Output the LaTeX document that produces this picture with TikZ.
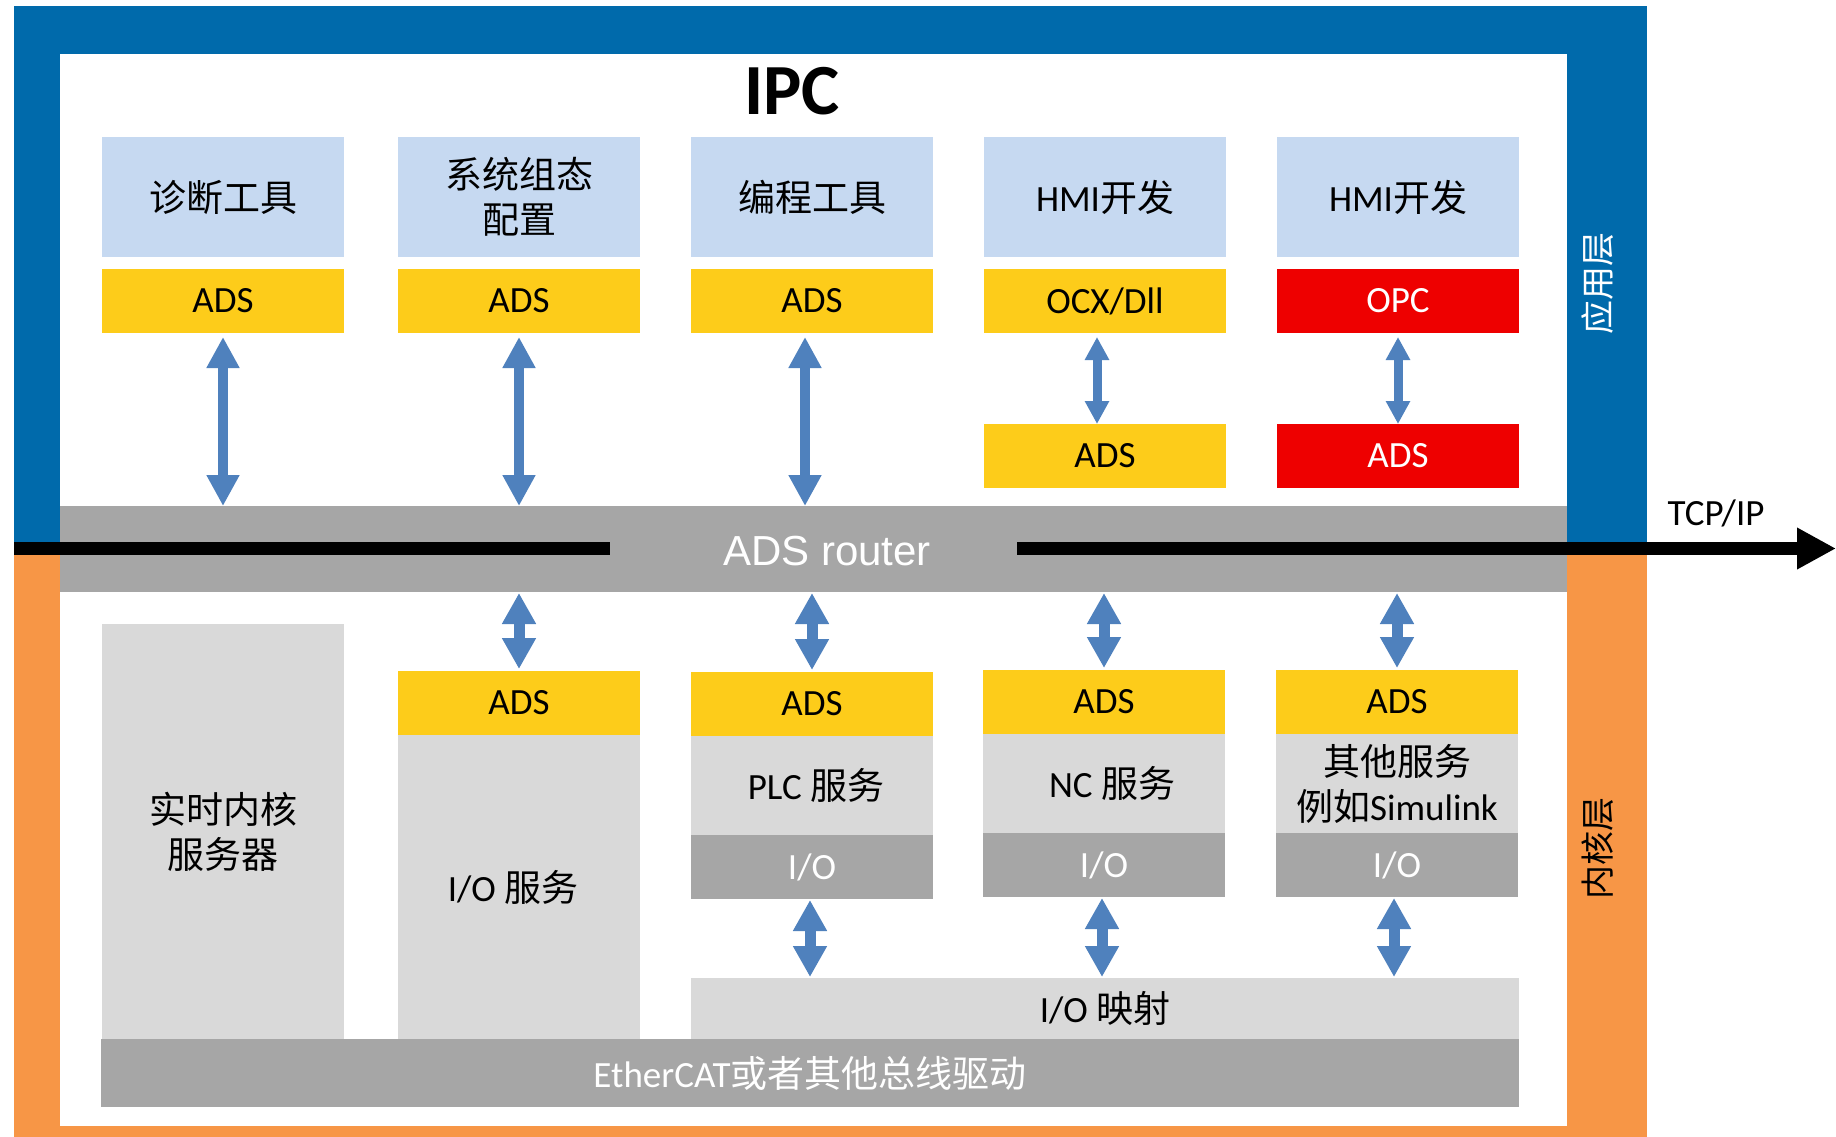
\documentclass[tikz,border=0pt]{standalone}
\usepackage{fontspec}
\setmainfont{Carlito}
\newfontfamily\cjk{Noto Sans CJK SC}
\newfontfamily\arialfont{Liberation Sans}
\usetikzlibrary{arrows.meta,calc}
\newcommand\zh[1]{{\cjk #1}}

\definecolor{frameblue}{HTML}{006AAB}
\definecolor{frameorange}{HTML}{F79646}
\definecolor{paleblue}{HTML}{C6D9F1}
\definecolor{adsyellow}{HTML}{FDCC1A}
\definecolor{optred}{HTML}{EE0000}
\definecolor{svcgray}{HTML}{D9D9D9}
\definecolor{iogray}{HTML}{A6A6A6}
\definecolor{linkblue}{HTML}{4F81BD}

\begin{document}
\begin{tikzpicture}[x=1pt,y=-1pt,
  box/.style={anchor=north west, inner sep=0pt, outer sep=0pt, align=center,
    minimum width=242pt, font=\fontsize{37}{45}\selectfont, text=black},
  tool/.style={box, fill=paleblue, minimum height=120pt},
  ads/.style={box, fill=adsyellow, minimum height=64pt},
  redads/.style={box, fill=optred, text=white, minimum height=64pt},
  svc/.style={box, fill=svcgray},
  io/.style={box, fill=iogray, text=white, minimum height=64pt},
  bigarrow/.style={draw=linkblue, line width=10.5pt,
    {Triangle[width=31pt,length=31pt]}-{Triangle[width=31pt,length=31pt]}},
  midarrow/.style={draw=linkblue, line width=11pt,
    {Triangle[width=32pt,length=31pt]}-{Triangle[width=32pt,length=31pt]}},
  smallarrow/.style={draw=linkblue, line width=9pt,
    {Triangle[width=23pt,length=23pt]}-{Triangle[width=23pt,length=23pt]}},
  layerlabel/.style={rotate=90, font=\cjk\fontsize{34}{34}\selectfont}
]
\useasboundingbox (0,0) rectangle (1836,1137);
\fill[white] (0,0) rectangle (1836,1137);

% frame: application layer (blue) above, kernel layer (orange) below
\fill[frameblue] (14,6) rectangle (1647,548);
\fill[frameorange] (14,548) rectangle (1647,1137);
\fill[white] (60,54) rectangle (1567,1126);

\node[font=\bfseries\fontsize{72}{72}\selectfont] (ipc) at (792,91) {IPC};

% application tools
\node[tool] (t1) at (102,137) {\zh{诊断工具}};
\node[tool] (t2) at (398,137) {\zh{系统组态}\\\zh{配置}};
\node[tool] (t3) at (691,137) {\zh{编程工具}};
\node[tool] (t4) at (984,137) {HMI\zh{开发}};
\node[tool] (t5) at (1277,137) {HMI\zh{开发}};

\node[ads] (a1) at (102,269) {ADS};
\node[ads] (a2) at (398,269) {ADS};
\node[ads] (a3) at (691,269) {ADS};
\node[ads] (a4) at (984,269) {OCX/Dll};
\node[redads] (a5) at (1277,269) {OPC};

\node[ads] (b4) at (984,424) {ADS};
\node[redads] (b5) at (1277,424) {ADS};

% ADS router band
\node[box, fill=iogray, minimum width=1507pt, minimum height=86pt] (router) at (60,506) {};

% kernel services
\node[svc, minimum height=415pt] (k1) at (102,624) {\zh{实时内核}\\\zh{服务器}};

\node[ads] (c2ads) at (398,671) {ADS};
\node[svc, minimum height=304pt] (c2svc) at (398,735) {I/O \zh{服务}\hspace*{12pt}};

\node[ads] (c3ads) at (691,672) {ADS};
\node[svc, minimum height=99pt] (c3svc) at (691,736) {\hspace*{8pt}PLC \zh{服务}};
\node[io] (c3io) at (691,835) {I/O};

\node[ads] (c4ads) at (983,670) {ADS};
\node[svc, minimum height=99pt] (c4svc) at (983,734) {\hspace*{16pt}NC \zh{服务}};
\node[io] (c4io) at (983,833) {I/O};

\node[ads] (c5ads) at (1276,670) {ADS};
\node[svc, minimum height=99pt] (c5svc) at (1276,734) {\zh{其他服务}\\\zh{例如}Simulink};
\node[io] (c5io) at (1276,833) {I/O};

\node[svc, minimum width=828pt, minimum height=61pt] (iomap) at (691,978) {I/O \zh{映射}};
\node[box, fill=iogray, text=white, minimum width=1418pt, minimum height=68pt] (bus) at (101,1039)
  {EtherCAT\zh{或者其他总线驱动}};

% TCP/IP line crossing the router
\coordinate (netL) at (14,548.5);
\coordinate (netGapL) at (610,548.5);
\coordinate (netGapR) at (1017,548.5);
\coordinate (netEnd) at (1836,548.5);
\draw[line width=13pt] (netL) -- (netGapL);
\draw[line width=13pt, -{Triangle[width=39pt,length=39pt]}] (netGapR) -- (netEnd);

\node[font=\arialfont\fontsize{42}{42}\selectfont, text=white, anchor=base] (routerlabel) at (827,565) {ADS router};
\node[font=\fontsize{37}{37}\selectfont, anchor=base] (tcpip) at (1716,525) {TCP/IP};

% layer captions
\node[layerlabel, text=white] (applayer) at (1598,283) {应用层};
\node[layerlabel, text=black] (kernlayer) at (1598,848) {内核层};

% links: application side
\draw[bigarrow] ($(a1.south)+(0,4)$) -- (a1.south |- router.north);
\draw[bigarrow] ($(a2.south)+(0,4)$) -- (a2.south |- router.north);
\draw[bigarrow] ($(a3.south)+(-7,4)$) -- ($(a3.south |- router.north)+(-7,0)$);
\draw[smallarrow] ($(a4.south)+(-8,4)$) -- ($(b4.north)+(-8,0)$);
\draw[smallarrow] ($(a5.south)+(0,4)$) -- (b5.north);

% links: kernel side
\draw[midarrow] ($(c2ads.north |- router.south)+(0,1)$) -- ($(c2ads.north)+(0,-2)$);
\draw[midarrow] ($(c3ads.north |- router.south)+(0,1)$) -- ($(c3ads.north)+(0,-2)$);
\draw[midarrow] ($(c4ads.north |- router.south)+(0,1)$) -- ($(c4ads.north)+(0,-2)$);
\draw[midarrow] ($(c5ads.north |- router.south)+(0,1)$) -- ($(c5ads.north)+(0,-2)$);

\draw[midarrow] ($(c3io.south)+(-2,1)$) -- ($(c3io.south |- iomap.north)+(-2,-1)$);
\draw[midarrow] ($(c4io.south)+(-2,1)$) -- ($(c4io.south |- iomap.north)+(-2,-1)$);
\draw[midarrow] ($(c5io.south)+(-3,1)$) -- ($(c5io.south |- iomap.north)+(-3,-1)$);
\end{tikzpicture}
\end{document}
